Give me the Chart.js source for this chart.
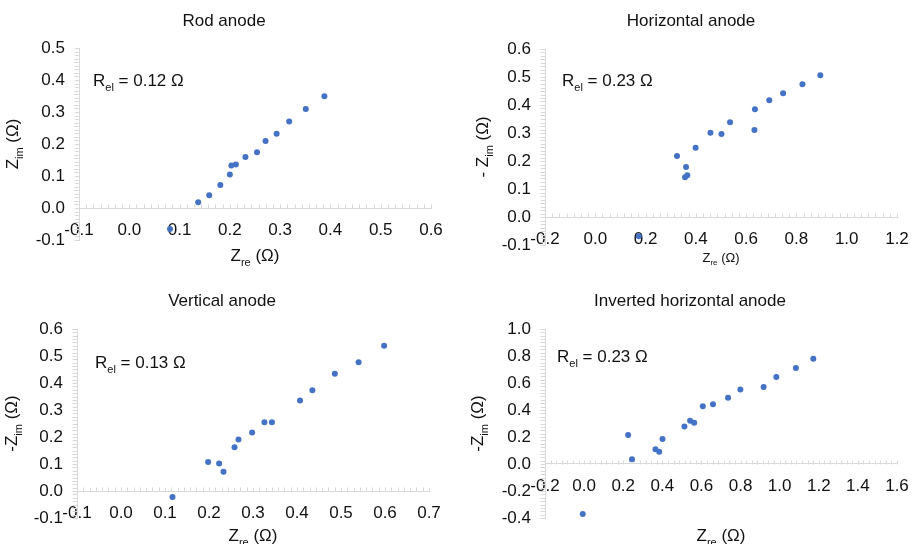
<!DOCTYPE html>
<html>
<head>
<meta charset="utf-8">
<script src="https://cdn.jsdelivr.net/npm/chart.js@4.4.1/dist/chart.umd.min.js"></script>
<style>
  html, body { margin: 0; padding: 0; background: #fff; }
  #wrap { position: relative; width: 913px; height: 544px; overflow: hidden; }
  #wrap canvas { position: absolute; }
</style>
</head>
<body>
<div id="wrap">
  <canvas id="rodChart" width="456" height="272" style="left:0;top:0"></canvas>
  <canvas id="horChart" width="466" height="272" style="left:456px;top:0"></canvas>
  <canvas id="vertChart" width="456" height="272" style="left:0;top:272px"></canvas>
  <canvas id="invChart" width="466" height="272" style="left:456px;top:272px"></canvas>
</div>
<script>
// ---- data (Zre, -Zim in ohm) ----
const rodRe = [0.081, 0.137, 0.159, 0.181, 0.200, 0.203, 0.212, 0.231, 0.254, 0.271, 0.293, 0.318, 0.351, 0.388];
const rodIm = [-0.066, 0.018, 0.040, 0.072, 0.105, 0.133, 0.136, 0.159, 0.174, 0.209, 0.232, 0.270, 0.309, 0.349];

const horRe = [0.173, 0.325, 0.361, 0.357, 0.366, 0.399, 0.458, 0.502, 0.536, 0.633, 0.635, 0.692, 0.747, 0.824, 0.895];
const horIm = [-0.069, 0.218, 0.179, 0.142, 0.149, 0.247, 0.301, 0.296, 0.338, 0.311, 0.385, 0.417, 0.442, 0.474, 0.506];

const vertRe = [0.117, 0.198, 0.223, 0.233, 0.258, 0.267, 0.298, 0.326, 0.343, 0.407, 0.435, 0.486, 0.540, 0.598];
const vertIm = [-0.022, 0.107, 0.102, 0.071, 0.162, 0.191, 0.217, 0.255, 0.255, 0.335, 0.373, 0.434, 0.477, 0.538];

const invRe = [-0.007, 0.225, 0.245, 0.365, 0.384, 0.401, 0.513, 0.542, 0.563, 0.607, 0.659, 0.736, 0.799, 0.918, 0.983, 1.083, 1.172];
const invIm = [-0.370, 0.215, 0.035, 0.109, 0.091, 0.185, 0.277, 0.321, 0.306, 0.427, 0.442, 0.491, 0.551, 0.570, 0.644, 0.711, 0.780];

// axis ticks: [min, max, step]
const rodXTicks = [-0.1, 0.6, 0.1];
const rodYTicks = [-0.1, 0.5, 0.1];
const horXTicks = [-0.2, 1.2, 0.2];
const horYTicks = [-0.1, 0.6, 0.1];
const vertXTicks = [-0.1, 0.7, 0.1];
const vertYTicks = [-0.1, 0.6, 0.1];
const invXTicks = [-0.2, 1.6, 0.2];
const invYTicks = [-0.4, 1.0, 0.2];

// text
const panelTitles = ['Rod anode', 'Horizontal anode', 'Vertical anode', 'Inverted horizontal anode'];
const relValues = ['0.12', '0.23', '0.13', '0.23'];
const yPrefixes = ['', '- ', '-', '-'];

const FONT = "'Liberation Sans', Arial, sans-serif";
const AXIS_GRAY = '#d9d9d9';
const DOT_BLUE = '#4472C4';

// tick label like Excel: one decimal, no "-0.0"
function fmtTick(v) {
  const n = Number(v);
  return (Math.abs(n) < 1e-9 ? 0 : n).toFixed(1);
}

// draw text with subscript pieces, parts = [[text, isSub], ...]
function drawRich(ctx, parts, x, baseline, size, align) {
  let w = 0;
  parts.forEach(([t, sub]) => {
    ctx.font = (sub ? Math.round(size * 0.62) : size) + 'px ' + FONT;
    w += ctx.measureText(t).width;
  });
  let cx = align === 'center' ? x - w / 2 : x;
  ctx.textAlign = 'left';
  ctx.textBaseline = 'alphabetic';
  parts.forEach(([t, sub]) => {
    ctx.font = (sub ? Math.round(size * 0.62) : size) + 'px ' + FONT;
    ctx.fillText(t, cx, baseline + (sub ? size * 0.28 : 0));
    cx += ctx.measureText(t).width;
  });
}

// Excel-like extras: minor tick marks, title, axis titles with subscripts, R_el note
const excelDecor = {
  id: 'excelDecor',
  beforeDatasetsDraw(chart, args, opts) {
    const ctx = chart.ctx;
    const xs = chart.scales.x, ys = chart.scales.y;
    const area = chart.chartArea;
    const y0 = Math.round(ys.getPixelForValue(0)) + 0.5;
    ctx.save();
    ctx.strokeStyle = AXIS_GRAY;
    ctx.lineWidth = 1;
    ctx.beginPath();
    // x axis: small marks pointing up from the zero line
    const xStep = opts.xStep / opts.xMinor;
    const nx = Math.round((xs.max - xs.min) / xStep);
    for (let i = 0; i <= nx; i++) {
      const px = Math.round(xs.getPixelForValue(xs.min + i * xStep)) + 0.5;
      ctx.moveTo(px, y0);
      ctx.lineTo(px, y0 - 4);
    }
    // y axis: small marks pointing left
    const yStep = opts.yStep / opts.yMinor;
    const ny = Math.round((ys.max - ys.min) / yStep);
    const lx = Math.round(area.left) + 0.5;
    for (let i = 0; i <= ny; i++) {
      const py = Math.round(ys.getPixelForValue(ys.min + i * yStep)) + 0.5;
      ctx.moveTo(lx, py);
      ctx.lineTo(lx - 5, py);
    }
    ctx.stroke();
    ctx.restore();
  },
  afterDraw(chart, args, opts) {
    const ctx = chart.ctx;
    const area = chart.chartArea;
    ctx.save();
    ctx.fillStyle = '#111';
    // chart title
    ctx.font = '17px ' + FONT;
    ctx.textAlign = 'center';
    ctx.textBaseline = 'middle';
    ctx.fillText(opts.title, opts.titleX, opts.titleY);
    // x axis title
    const xs = opts.xTitleSize;
    drawRich(ctx, [['Z', 0], ['re', 1], [' (\u03A9)', 0]], (area.left + area.right) / 2, opts.xTitleY + xs * 0.36, xs, 'center');
    // y axis title (rotated)
    ctx.save();
    ctx.translate(opts.yTitleX + 6, (area.top + area.bottom) / 2);
    ctx.rotate(-Math.PI / 2);
    drawRich(ctx, [[opts.yPrefix + 'Z', 0], ['im', 1], [' (\u03A9)', 0]], 0, 0, 17, 'center');
    ctx.restore();
    // R_el annotation
    drawRich(ctx, [['R', 0], ['el', 1], [' = ' + opts.rel + ' \u03A9', 0]], opts.relX, opts.relY + 6, 17, 'left');
    ctx.restore();
  }
};

function makePanel(id, xVals, yVals, xTicks, yTicks, pad, yWidth, decor) {
  const points = xVals.map((x, i) => ({ x: x, y: yVals[i] }));
  const tickFont = { family: FONT, size: 17 };
  return new Chart(document.getElementById(id), {
    type: 'scatter',
    data: {
      datasets: [{
        data: points,
        backgroundColor: DOT_BLUE,
        borderWidth: 0,
        pointRadius: 3,
        pointHoverRadius: 3
      }]
    },
    options: {
      responsive: false,
      animation: false,
      devicePixelRatio: 1,
      layout: { padding: pad },
      plugins: {
        legend: { display: false },
        tooltip: { enabled: false },
        excelDecor: Object.assign({ xStep: xTicks[2], yStep: yTicks[2] }, decor)
      },
      scales: {
        x: {
          type: 'linear',
          position: { y: 0 },
          min: xTicks[0],
          max: xTicks[1],
          grid: { display: true, drawOnChartArea: false, drawTicks: false },
          border: { color: AXIS_GRAY, width: 1 },
          ticks: {
            stepSize: xTicks[2],
            autoSkip: false,
            maxRotation: 0,
            padding: 12,
            color: '#111',
            font: tickFont,
            callback: fmtTick
          }
        },
        y: {
          type: 'linear',
          position: 'left',
          min: yTicks[0],
          max: yTicks[1],
          afterFit: (scale) => { scale.width = yWidth; },
          grid: { display: true, drawOnChartArea: false, drawTicks: false },
          border: { color: AXIS_GRAY, width: 1 },
          ticks: {
            stepSize: yTicks[2],
            padding: 14,
            color: '#111',
            font: tickFont,
            callback: fmtTick
          }
        }
      }
    },
    plugins: [excelDecor]
  });
}

makePanel('rodChart', rodRe, rodIm, rodXTicks, rodYTicks,
  { left: 30, top: 48, right: 25, bottom: 32 }, 49,
  { title: panelTitles[0], titleX: 224, titleY: 21, xTitleY: 255, xTitleSize: 17,
    yTitleX: 12, yPrefix: yPrefixes[0], rel: relValues[0], relX: 93, relY: 80, xMinor: 7, yMinor: 9 });

makePanel('horChart', horRe, horIm, horXTicks, horYTicks,
  { left: 30, top: 49, right: 25, bottom: 27 }, 59,
  { title: panelTitles[1], titleX: 235, titleY: 21, xTitleY: 257, xTitleSize: 13,
    yTitleX: 26, yPrefix: yPrefixes[1], rel: relValues[1], relX: 106, relY: 80, xMinor: 7, yMinor: 8 });

makePanel('vertChart', vertRe, vertIm, vertXTicks, vertYTicks,
  { left: 30, top: 57, right: 27, bottom: 26 }, 47,
  { title: panelTitles[2], titleX: 222, titleY: 29, xTitleY: 263, xTitleSize: 17,
    yTitleX: 11, yPrefix: yPrefixes[2], rel: relValues[2], relX: 95, relY: 90, xMinor: 7, yMinor: 8 });

makePanel('invChart', invRe, invIm, invXTicks, invYTicks,
  { left: 30, top: 57, right: 25, bottom: 26 }, 59,
  { title: panelTitles[3], titleX: 234, titleY: 29, xTitleY: 263, xTitleSize: 17,
    yTitleX: 21, yPrefix: yPrefixes[3], rel: relValues[3], relX: 101, relY: 84, xMinor: 7, yMinor: 8 });
</script>
</body>
</html>
